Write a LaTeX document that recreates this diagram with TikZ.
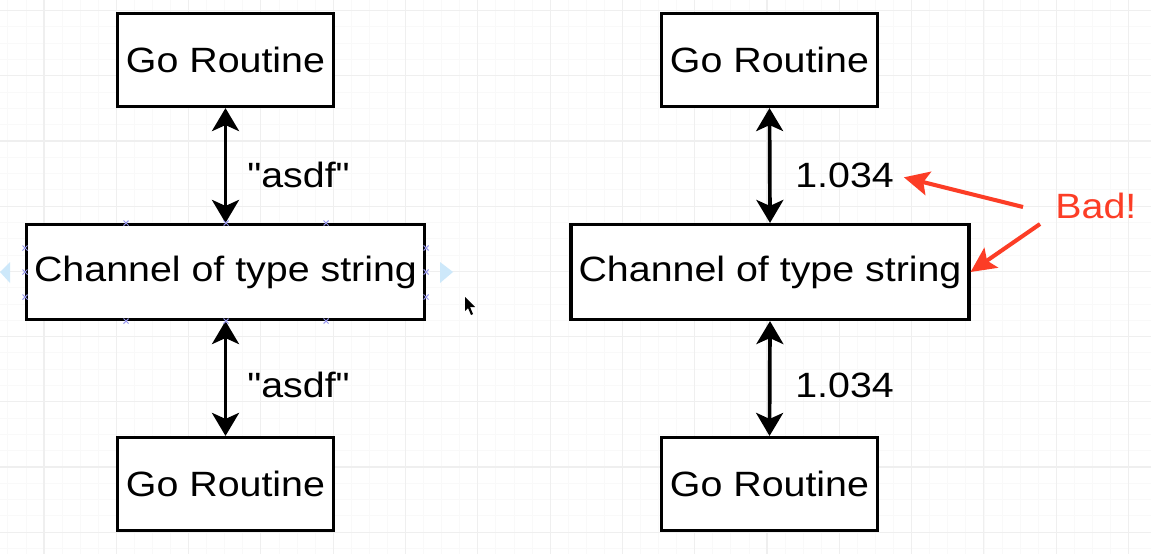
\documentclass[tikz,border=0pt]{standalone}
\usepackage{fontspec}
\setmainfont[FakeStretch=1.12, Ligatures=TeXOff]{Liberation Sans}
\usetikzlibrary{arrows.meta}

\definecolor{badred}{RGB}{252,61,38}
\definecolor{gridmajor}{RGB}{239,239,239}
\definecolor{gridminor}{RGB}{249,249,249}
\definecolor{handle}{RGB}{150,150,235}
\definecolor{hint}{RGB}{205,232,250}

\tikzset{
  routine/.style={draw, line width=1.8pt, fill=white, inner sep=0pt,
    minimum width=4.32cm, minimum height=1.86cm,
    font=\fontsize{20}{24}\selectfont},
  channel/.style={routine, minimum width=7.96cm, minimum height=1.9cm},
  value/.style={inner sep=0pt, anchor=base west,
    font=\fontsize{20}{24}\selectfont},
  pipe/.style={line width=2.1pt,
    {Stealth[length=0.46cm,width=0.54cm,inset=0.12cm]}-{Stealth[length=0.46cm,width=0.54cm,inset=0.12cm]}},
  badarrow/.style={badred, line width=2.3pt,
    -{Stealth[length=0.5cm,width=0.48cm,inset=0.1cm]}},
  gridline/.style={gridmajor, line width=0.6pt},
  subgrid/.style={gridminor, line width=0.5pt},
}

\begin{document}
\begin{tikzpicture}[x=0.02cm, y=-0.02cm]
% canvas
\fill[white] (0,0) rectangle (1151,554);
\useasboundingbox (0,0) rectangle (1151,554);
\foreach \k in {0,...,63}
  \draw[subgrid] ({-10.2+18.075*\k},0) -- ({-10.2+18.075*\k},554);
\foreach \k in {0,...,34}
  \draw[subgrid] (0,{-5.7+16.3*\k}) -- (1151,{-5.7+16.3*\k});
\foreach \k in {0,...,15}
  \draw[gridline] ({44+72.3*\k},0) -- ({44+72.3*\k},554);
\foreach \k in {0,...,8}
  \draw[gridline] (0,{10.6+65.2*\k}) -- (1151,{10.6+65.2*\k});

% left column
\node[routine] (gr1) at (225.5,60) {Go Routine};
\node[channel] (ch1) at (225.5,272) {Channel of type string};
\node[routine] (gr2) at (225.5,484) {Go Routine};
\draw[pipe] (gr1.south) -- (ch1.north);
\draw[pipe] (ch1.south) -- (gr2.north);
\node[value] (str1) at (247,187) {"asdf"};
\node[value] (str2) at (247,397) {"asdf"};

% selection handles and hover hints
\foreach \p in {(126,223),(226,223),(326,223),(126,321),(226,321),(326,321),
                (25,248),(25,272),(25,297),(426,248),(426,272),(426,297)}
  \draw[handle, line width=0.6pt] \p ++(-2.5,-2.5) -- ++(5,5) \p ++(-2.5,2.5) -- ++(5,-5);
\fill[hint] (0,272) -- (10,262) -- (10,283) -- cycle;
\fill[hint] (440,262) -- (453,272) -- (440,283) -- cycle;
% mouse pointer
\fill[black] (465,297) -- (465,311) -- (468,308) -- (471,315) -- (473,314)
  -- (470,307) -- (475,307) -- cycle;

% right column
\node[routine] (gr3) at (769.5,60) {Go Routine};
\node[channel] (ch2) at (770,272) {Channel of type string};
\node[routine] (gr4) at (769.5,484) {Go Routine};
\draw[pipe] (gr3.south) -- (ch2.north);
\draw[pipe] (ch2.south) -- (gr4.north);
\node[value] (num1) at (795,187) {1.034};
\node[value] (num2) at (795,397) {1.034};

% complaint
\node[value, text=badred] (bad) at (1055,218) {Bad!};
\coordinate (bad-a) at (1023,207);
\coordinate (bad-b) at (1040,224);
\draw[badarrow, shorten >=0.2cm] (bad-a) -- (num1.east);
\draw[badarrow] (bad-b) -- (ch2.east);
\end{tikzpicture}
\end{document}
